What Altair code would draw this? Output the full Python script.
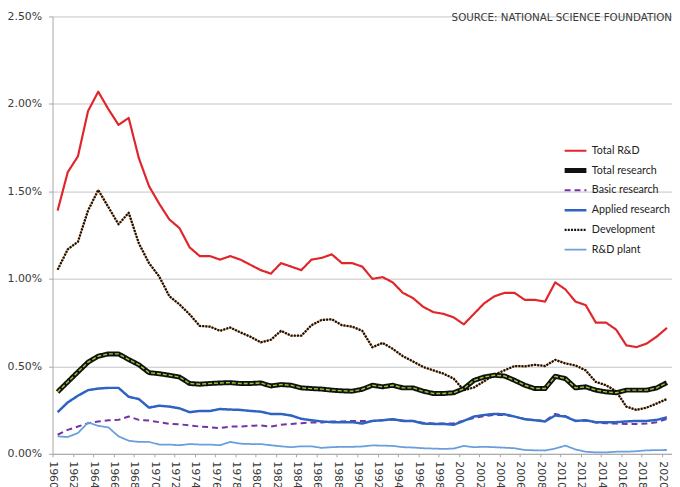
import altair as alt
import pandas as pd

years = list(range(1960, 2021))

series_names = ["Total R&D", "Total research", "Basic research",
                "Applied research", "Development", "R&D plant"]

total_rd = [1.39, 1.61, 1.70, 1.96, 2.07, 1.97, 1.88, 1.92, 1.69, 1.53,
            1.43, 1.34, 1.29, 1.18, 1.13, 1.13, 1.11, 1.13, 1.11, 1.08,
            1.05, 1.03, 1.09, 1.07, 1.05, 1.11, 1.12, 1.14, 1.09, 1.09,
            1.07, 1.00, 1.01, 0.98, 0.92, 0.89, 0.84, 0.81, 0.80, 0.78,
            0.74, 0.80, 0.86, 0.90, 0.92, 0.92, 0.88, 0.88, 0.87, 0.98,
            0.94, 0.87, 0.85, 0.75, 0.75, 0.71, 0.62, 0.61, 0.63, 0.67, 0.72]

total_research = [0.354, 0.411, 0.468, 0.524, 0.558, 0.571, 0.571, 0.539, 0.509, 0.464,
                  0.458, 0.449, 0.439, 0.402, 0.398, 0.402, 0.405, 0.407, 0.402, 0.402,
                  0.405, 0.388, 0.396, 0.392, 0.377, 0.373, 0.370, 0.364, 0.360, 0.358,
                  0.369, 0.392, 0.383, 0.392, 0.377, 0.377, 0.358, 0.345, 0.345, 0.349,
                  0.373, 0.420, 0.439, 0.449, 0.445, 0.420, 0.392, 0.373, 0.373, 0.443,
                  0.430, 0.377, 0.383, 0.364, 0.354, 0.349, 0.364, 0.364, 0.364, 0.377, 0.407]

basic_research = [0.109, 0.137, 0.156, 0.175, 0.185, 0.192, 0.194, 0.213, 0.194, 0.190,
                  0.181, 0.171, 0.169, 0.162, 0.156, 0.152, 0.147, 0.156, 0.156, 0.160,
                  0.162, 0.156, 0.166, 0.171, 0.175, 0.179, 0.179, 0.185, 0.185, 0.188,
                  0.188, 0.188, 0.192, 0.196, 0.190, 0.188, 0.177, 0.173, 0.173, 0.175,
                  0.190, 0.205, 0.215, 0.222, 0.222, 0.213, 0.198, 0.192, 0.188, 0.228,
                  0.215, 0.188, 0.190, 0.179, 0.175, 0.173, 0.170, 0.171, 0.173, 0.181, 0.200]

applied_research = [0.238, 0.294, 0.332, 0.364, 0.373, 0.377, 0.377, 0.326, 0.313, 0.264,
                    0.275, 0.270, 0.260, 0.238, 0.245, 0.245, 0.256, 0.253, 0.251, 0.245,
                    0.241, 0.228, 0.228, 0.219, 0.200, 0.192, 0.185, 0.181, 0.181, 0.181,
                    0.173, 0.188, 0.192, 0.198, 0.188, 0.188, 0.173, 0.171, 0.171, 0.166,
                    0.188, 0.213, 0.222, 0.228, 0.226, 0.213, 0.198, 0.192, 0.185, 0.219,
                    0.213, 0.188, 0.192, 0.181, 0.181, 0.181, 0.185, 0.188, 0.188, 0.194, 0.209]

development = [1.052, 1.169, 1.212, 1.391, 1.508, 1.410, 1.312, 1.378, 1.203, 1.090,
               1.014, 0.901, 0.854, 0.797, 0.731, 0.727, 0.703, 0.722, 0.694, 0.669,
               0.637, 0.652, 0.703, 0.675, 0.675, 0.735, 0.765, 0.769, 0.735, 0.727,
               0.703, 0.609, 0.634, 0.600, 0.558, 0.528, 0.496, 0.477, 0.458, 0.430,
               0.364, 0.379, 0.415, 0.452, 0.477, 0.502, 0.500, 0.509, 0.502, 0.537,
               0.517, 0.505, 0.477, 0.411, 0.392, 0.358, 0.270, 0.251, 0.264, 0.288, 0.313]

rd_plant = [0.100, 0.096, 0.119, 0.179, 0.160, 0.151, 0.100, 0.075, 0.068, 0.068,
            0.053, 0.053, 0.049, 0.056, 0.053, 0.053, 0.049, 0.068, 0.058, 0.056,
            0.056, 0.049, 0.043, 0.038, 0.043, 0.043, 0.034, 0.038, 0.040, 0.040,
            0.042, 0.048, 0.047, 0.045, 0.038, 0.036, 0.032, 0.030, 0.028, 0.030,
            0.045, 0.038, 0.040, 0.038, 0.035, 0.032, 0.022, 0.020, 0.019, 0.030,
            0.047, 0.025, 0.012, 0.008, 0.008, 0.012, 0.012, 0.015, 0.020, 0.021, 0.022]

y_ticks = [0, 0.5, 1.0, 1.5, 2.0, 2.5]
x_label_years = years[::2]

series_colors = ["#e1262b", "#111111", "#7433a6", "#2d63c1", "#111111", "#6a9fdc"]
series_dashes = [[1, 0], [1, 0], [6, 4], [1, 0], [2, 1.2], [1, 0]]
series_widths = [2.2, 5, 2, 2.5, 2.3, 1.8]

rows = []
for name, vals in zip(series_names,
                      [total_rd, total_research, basic_research,
                       applied_research, development, rd_plant]):
    for yr, v in zip(years, vals):
        rows.append({"year": yr, "series": name, "value": v})
df = pd.DataFrame(rows)

x_enc = alt.X("year:Q",
              scale=alt.Scale(domain=[1959.5, 2020.5], nice=False, zero=False),
              axis=alt.Axis(values=x_label_years, format="d", labelAngle=90,
                            title=None, grid=False, tickSize=3, tickOffset=-5,
                            labelPadding=4, labelFlush=False, labelOverlap=False))
y_enc = alt.Y("value:Q",
              scale=alt.Scale(domain=[0, 2.5], nice=False),
              axis=alt.Axis(values=y_ticks, title=None, grid=True, tickSize=4,
                            labelPadding=7,
                            labelExpr="format(datum.value, '.2f') + '%'"))

leg = alt.Legend(title=None, orient="none", legendX=515, legendY=126,
                 symbolType="stroke", symbolSize=484, labelFont="Lato",
                 labelFontSize=10.8, labelColor="#222222", rowPadding=0,
                 clipHeight=19.5, labelOffset=3, padding=0)

base = alt.Chart(df)

dev_under = base.transform_filter(alt.datum.series == "Development").mark_line(
    color="#f2a35e", strokeWidth=1.6).encode(x=x_enc, y=y_enc)

main = base.mark_line(strokeJoin="round").encode(
    x=x_enc, y=y_enc,
    color=alt.Color("series:N", sort=series_names,
                    scale=alt.Scale(domain=series_names, range=series_colors),
                    legend=leg),
    strokeDash=alt.StrokeDash("series:N", sort=series_names,
                              scale=alt.Scale(type="ordinal", domain=series_names,
                                              range=series_dashes),
                              legend=leg),
    strokeWidth=alt.StrokeWidth("series:N", sort=series_names,
                                scale=alt.Scale(type="ordinal", domain=series_names,
                                                range=series_widths),
                                legend=leg),
)

green_over = base.transform_filter(alt.datum.series == "Total research").mark_line(
    color="#9acd32", strokeWidth=1.4, strokeDash=[4, 2]).encode(x=x_enc, y=y_enc)

chart = alt.layer(dev_under, main, green_over).properties(
    width=626, height=442,
    padding={"left": 45, "top": 6, "right": 0, "bottom": 31},
    autosize=alt.AutoSizeParams(type="none"),
    title=alt.TitleParams(text="SOURCE: NATIONAL SCIENCE FOUNDATION",
                          anchor="end", frame="group", orient="top",
                          offset=-21, dx=0, baseline="alphabetic",
                          fontSize=10.4, font="DejaVu Sans",
                          fontWeight="normal", color="#3a3a3a"),
).configure_view(stroke=None).configure_axis(
    domainColor="#a6a6a6", tickColor="#a6a6a6", gridColor="#c4c4c4",
    labelFont="DejaVu Sans", labelFontSize=11, labelColor="#3a3a3a",
)

chart.save("out.html", embed_options={"renderer": "svg", "actions": False})
